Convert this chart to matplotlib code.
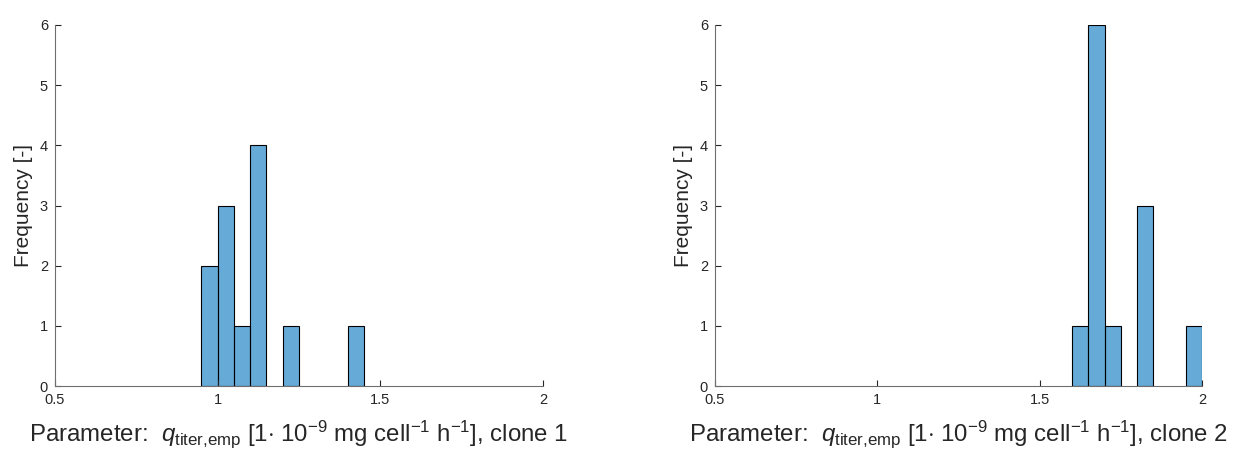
import numpy as np
import matplotlib
matplotlib.use("Agg")
import matplotlib.pyplot as plt

plt.rcParams['font.family'] = ['Liberation Sans', 'DejaVu Sans']
plt.rcParams['mathtext.fontset'] = 'custom'
plt.rcParams['mathtext.rm'] = 'Liberation Sans'
plt.rcParams['mathtext.it'] = 'Liberation Sans:italic'

# histogram bins (left edges) and counts per clone
bin_width = 0.05
clone1_edges = [0.95, 1.00, 1.05, 1.10, 1.20, 1.40]
clone1_counts = [2, 3, 1, 4, 1, 1]
clone2_edges = [1.60, 1.65, 1.70, 1.80, 1.95]
clone2_counts = [1, 6, 1, 3, 1]

x_ticks = [0.5, 1, 1.5, 2]
y_ticks = [0, 1, 2, 3, 4, 5, 6]

face = (0.0, 0.447, 0.741, 0.6)
axis_col = '#262626'

fig = plt.figure(figsize=(12.4, 4.59), dpi=100)
ax1 = fig.add_axes([55 / 1240, 73 / 459, 488 / 1240, 361 / 459])
ax2 = fig.add_axes([715 / 1240, 73 / 459, 487 / 1240, 361 / 459])

panels = [(ax1, clone1_edges, clone1_counts, '1'),
          (ax2, clone2_edges, clone2_counts, '2')]

for ax, edges, counts, clone in panels:
    ax.bar(edges, counts, width=bin_width, align='edge',
           color=face, edgecolor='black', linewidth=0.8)
    ax.set_xlim(0.5, 2)
    ax.set_ylim(0, 6)
    ax.set_xticks(x_ticks)
    ax.set_xticklabels(['0.5', '1', '1.5', '2'])
    ax.set_yticks(y_ticks)
    for side in ['top', 'right']:
        ax.spines[side].set_visible(False)
    for side in ['left', 'bottom']:
        ax.spines[side].set_color('#6e6e6e')
        ax.spines[side].set_linewidth(0.8)
    ax.tick_params(direction='in', length=4, width=0.8, colors=axis_col,
                   labelsize=10.5, pad=5)
    ax.set_ylabel('Frequency [-]', fontsize=15, color=axis_col, labelpad=5)
    ax.set_xlabel(r'Parameter:  $q_{\mathrm{titer{,}emp}}$ [1$\cdot$ 10$^{-9}$ mg cell$^{-1}$ h$^{-1}$], clone ' + clone,
                  fontsize=17.3, color=axis_col, labelpad=8)

fig.savefig('out.png', dpi=100, facecolor='white')
